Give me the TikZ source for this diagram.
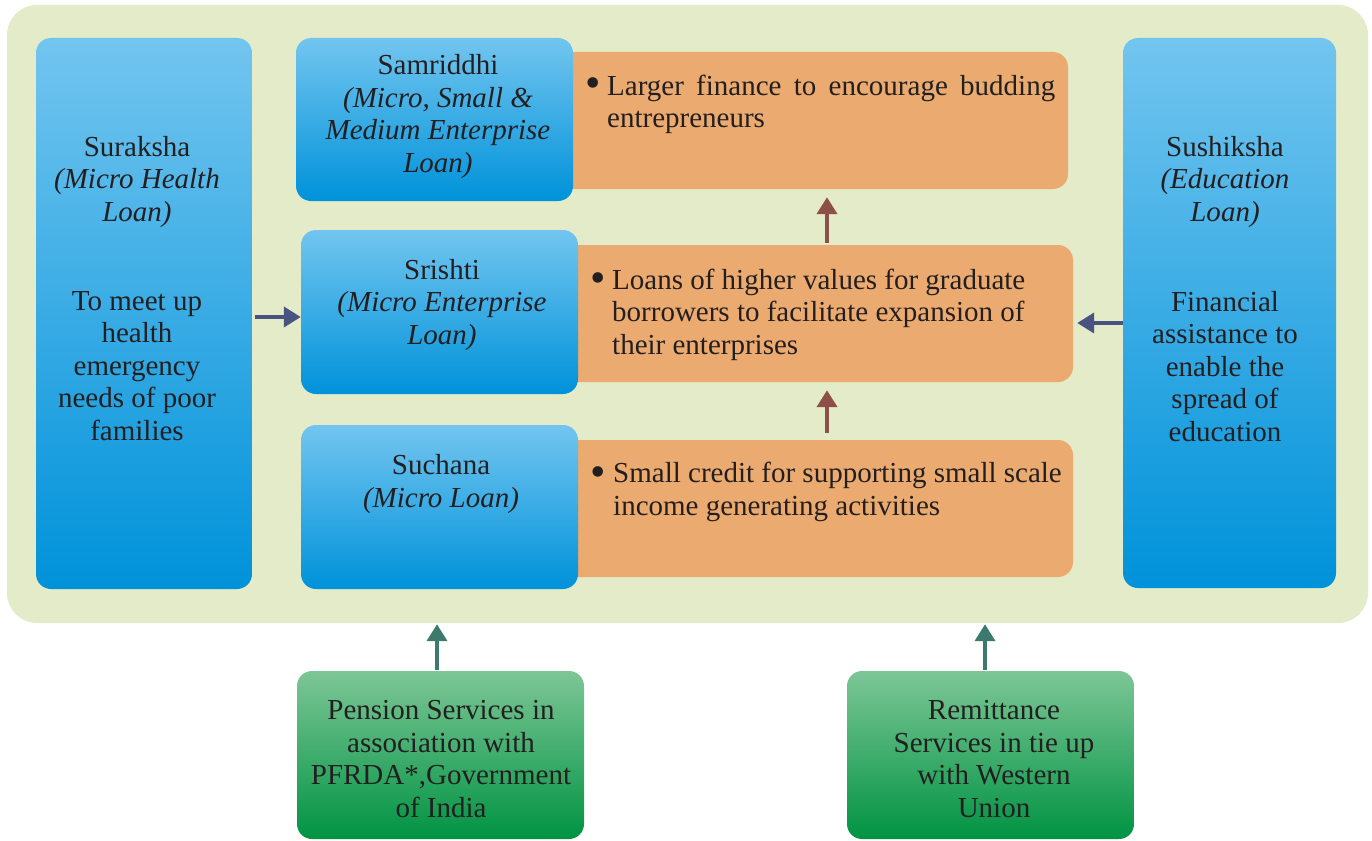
\documentclass[tikz,border=0pt]{standalone}
\usepackage{fontspec}
\setmainfont{Liberation Serif}
\usetikzlibrary{arrows.meta}
\definecolor{bgc}{HTML}{E3EBC8}
\definecolor{orc}{HTML}{EBAA6F}
\definecolor{bluetop}{HTML}{72C5EF}
\definecolor{bluemid}{HTML}{08ABE9}
\definecolor{bluebot}{HTML}{0092DA}
\definecolor{greentop}{HTML}{7DC696}
\definecolor{greenbot}{HTML}{009342}
\definecolor{txc}{HTML}{231F20}
\definecolor{arrblue}{HTML}{4A5480}
\definecolor{arrbrown}{HTML}{8C5048}
\definecolor{arrgreen}{HTML}{3B7A6C}
\tikzset{
  bluebox/.style={rectangle, rounded corners=15pt, top color=bluetop, middle color=bluemid, bottom color=bluebot, draw=none, inner sep=0pt},
  orbox/.style={rectangle, rounded corners=15pt, fill=orc, draw=none, inner sep=0pt},
  greenbox/.style={rectangle, rounded corners=15pt, top color=greentop, bottom color=greenbot, draw=none, inner sep=0pt},
  txt/.style={inner sep=0pt, text=txc, font=\fontsize{29}{32.5}\selectfont, align=center, anchor=base},
  btxt/.style={inner sep=0pt, text=txc, font=\fontsize{29}{32.5}\selectfont, align=left, anchor=base west},
  bul/.style={inner sep=0pt, text=txc, font=\fontsize{44}{44}\selectfont, anchor=base west},
  arr/.style={line width=4pt, -{Triangle[width=20pt,length=17pt]}}
}
\begin{document}
\begin{tikzpicture}[x=1pt,y=-1pt]
\useasboundingbox (0,0) rectangle (1372,840);
\clip (0,0) rectangle (1372,840);
% background
\node[rectangle, rounded corners=30pt, fill=bgc, minimum width=1361pt, minimum height=618pt, inner sep=0pt] (bg) at (687.5,314) {};
% orange boxes
\node[orbox, minimum width=508pt, minimum height=137pt] (o1) at (814,120.5) {};
\node[orbox, minimum width=513pt, minimum height=137pt] (o2) at (816.5,313.5) {};
\node[orbox, minimum width=513pt, minimum height=137pt] (o3) at (816.5,508.5) {};
% blue boxes
\node[bluebox, minimum width=216pt, minimum height=551pt] (sur) at (144,313.5) {};
\node[bluebox, minimum width=213pt, minimum height=550pt] (sus) at (1229.5,313) {};
\node[bluebox, minimum width=277pt, minimum height=163pt] (sam) at (434.5,119.5) {};
\node[bluebox, minimum width=277pt, minimum height=164pt] (sri) at (439.5,312) {};
\node[bluebox, minimum width=277pt, minimum height=164pt] (suc) at (439.5,507) {};
% green boxes
\node[greenbox, minimum width=287pt, minimum height=168pt] (pen) at (440.5,755) {};
\node[greenbox, minimum width=287pt, minimum height=168pt] (rem) at (990.5,755) {};
% texts in blue boxes (base = last line)
\node[txt] (surT) at (137,221) {Suraksha\\\textit{(Micro Health}\\\textit{Loan)}};
\node[txt] (surD) at (137,440) {To meet up\\health\\emergency\\needs of poor\\families};
\node[txt] (susT) at (1225,221) {Sushiksha\\\textit{(Education}\\\textit{Loan)}};
\node[txt] (susD) at (1225,441) {Financial\\assistance to\\enable the\\spread of\\education};
\node[txt] (samT) at (438,172) {Samriddhi\\\textit{(Micro, Small \&}\\\textit{Medium Enterprise}\\\textit{Loan)}};
\node[txt] (sriT) at (442,344) {Srishti\\\textit{(Micro Enterprise}\\\textit{Loan)}};
\node[txt] (sucT) at (441,507) {Suchana\\\textit{(Micro Loan)}};
\node[txt] (penT) at (441,817) {Pension Services in\\association with\\PFRDA*,Government\\of India};
\node[txt] (remT) at (994,817) {Remittance\\Services in tie up\\with Western\\Union};
% bullet texts
\node[bul] (b1) at (585,98) {\textbullet};
\node[btxt] (o1T) at (607,128) {\makebox[448pt][s]{Larger finance to encourage budding}\\entrepreneurs};
\node[bul] (b2) at (590,292) {\textbullet};
\node[btxt] (o2T) at (612,354) {Loans of higher values for graduate\\borrowers to facilitate expansion of\\their enterprises};
\node[bul] (b3) at (590,486) {\textbullet};
\node[btxt] (o3T) at (613,515) {Small credit for supporting small scale\\income generating activities};
% arrows
\coordinate (la) at (sur.east |- 0,317);
\coordinate (lb) at (sri.west |- 0,317);
\draw[arr, arrblue, shorten <=3pt] (la) -- (lb);
\coordinate (ra) at (sus.west |- 0,323);
\coordinate (rb) at (o2.east |- 0,323);
\draw[arr, arrblue, shorten >=4pt] (ra) -- (rb);
\coordinate (u1a) at (o2.north -| 827,0);
\coordinate (u1b) at (o1.south -| 827,0);
\draw[arr, arrbrown, shorten <=2pt, shorten >=8pt] (u1a) -- (u1b);
\coordinate (u2a) at (o3.north -| 827,0);
\coordinate (u2b) at (o2.south -| 827,0);
\draw[arr, arrbrown, shorten <=7pt, shorten >=8pt] (u2a) -- (u2b);
\coordinate (g1a) at (pen.north -| 437,0);
\coordinate (g1b) at (bg.south -| 437,0);
\draw[arr, arrgreen, shorten <=1pt, shorten >=1pt] (g1a) -- (g1b);
\coordinate (g2a) at (rem.north -| 985,0);
\coordinate (g2b) at (bg.south -| 985,0);
\draw[arr, arrgreen, shorten <=1pt, shorten >=1pt] (g2a) -- (g2b);
\end{tikzpicture}
\end{document}
